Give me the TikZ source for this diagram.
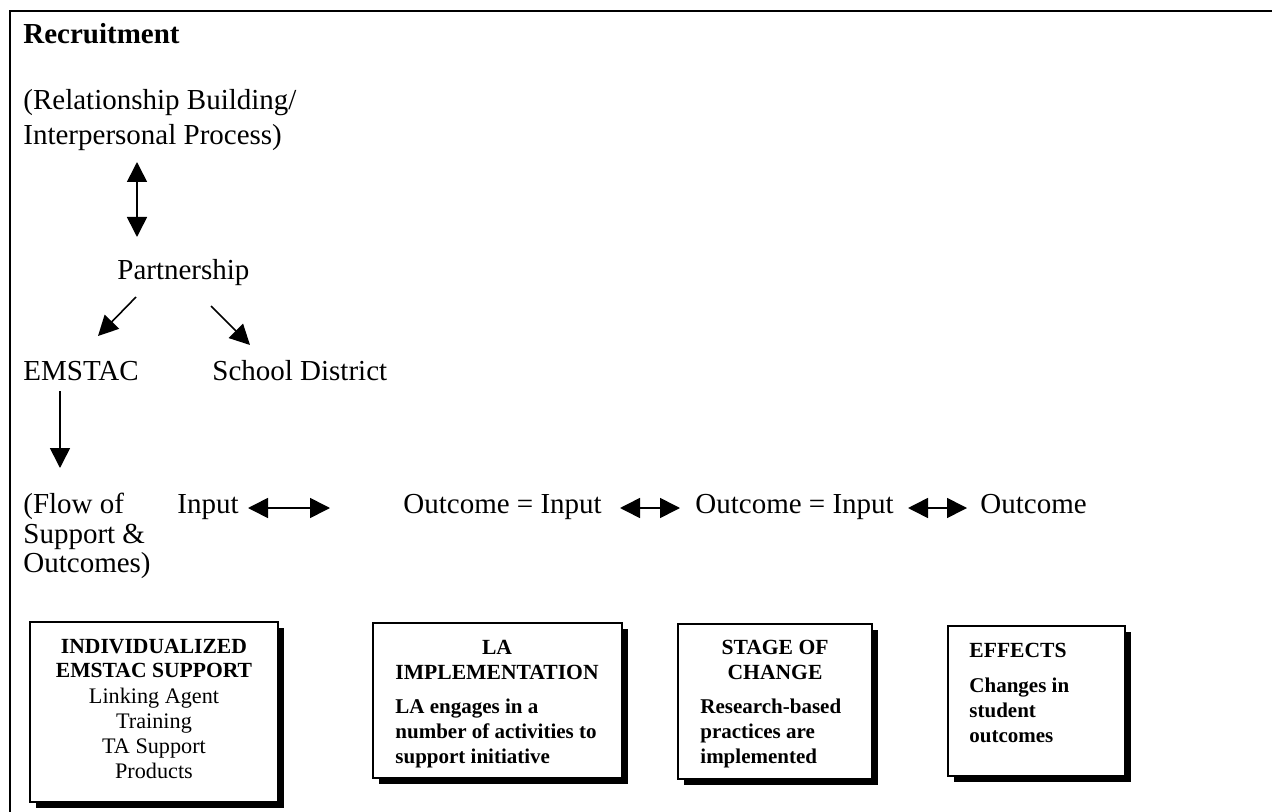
\documentclass[tikz,border=0pt]{standalone}
\usepackage{fontspec}
\setmainfont{Liberation Serif}
\usetikzlibrary{arrows.meta}
\begin{document}
\begin{tikzpicture}[x=0.5pt,y=-0.5pt,
  txt/.style={anchor=base west, inner sep=0pt, font=\fontsize{14.5}{17.5}\selectfont},
  hd/.style={anchor=base, inner sep=0pt, font=\bfseries\fontsize{10.8}{13}\selectfont},
  hdl/.style={anchor=base west, inner sep=0pt, font=\bfseries\fontsize{10.8}{13}\selectfont},
  bd/.style={anchor=base west, inner sep=0pt, font=\bfseries\fontsize{10.5}{12.5}\selectfont},
  rg/.style={anchor=base, inner sep=0pt, font=\fontsize{11.1}{13}\selectfont},
  panel/.style={draw, line width=1pt, fill=white, inner sep=0pt, outer sep=0pt, anchor=north west},
  tip/.tip={Triangle[length=10pt,width=10pt]},
  arr/.style={line width=0.8pt, -tip},
  darr/.style={line width=0.8pt, tip-tip}]
\useasboundingbox (0,0) rectangle (1272,812);

% outer frame (top and left edges)
\draw[line width=1.2pt] (10,812) -- (10,11) -- (1272,11);

% upper part: recruitment and partnership
\node[txt, font=\bfseries\fontsize{14.5}{17.5}\selectfont] (rec) at (23,44) {Recruitment};
\node[txt] (rel1) at (23,110) {(Relationship Building/};
\node[txt] (rel2) at (23,145) {Interpersonal Process)};
\node[txt] (part) at (117,280) {Partnership};
\node[txt] (emstac) at (23,380) {EMSTAC};
\node[txt] (school) at (212,380) {School District};

\coordinate (relB) at (137,162);
\coordinate (partT) at (137,237);
\draw[darr] (relB) -- (partT);

\coordinate (partL) at (136,297);
\coordinate (emT) at (98,336);
\draw[arr] (partL) -- (emT);
\coordinate (partR) at (211,306);
\coordinate (schT) at (250,345);
\draw[arr] (partR) -- (schT);

\coordinate (emB) at (60,391);
\coordinate (flowT) at (60,468);
\draw[arr] (emB) -- (flowT);

% flow of support and outcomes
\node[txt] (flow1) at (23,513) {(Flow of};
\node[txt] (flow2) at (23,543) {Support \&};
\node[txt] (flow3) at (23,572) {Outcomes)};
\node[txt] (in0) at (177,513) {Input};
\node[txt] (oi1) at (403,513) {Outcome = Input};
\node[txt] (oi2) at (695,513) {Outcome = Input};
\node[txt] (out) at (980,513) {Outcome};

\coordinate (a1s) at (248,508); \coordinate (a1e) at (330,508);
\coordinate (a2s) at (620,508); \coordinate (a2e) at (680,508);
\coordinate (a3s) at (908,508); \coordinate (a3e) at (967,508);
\draw[darr] (a1s) -- (a1e);
\draw[darr] (a2s) -- (a2e);
\draw[darr] (a3s) -- (a3e);

% shadowed panels
\fill (36,628) rectangle (284,808);
\node[panel, minimum width=124pt, minimum height=90pt] (b1) at (30,622) {};
\fill (379,629) rectangle (628,784);
\node[panel, minimum width=124.5pt, minimum height=77.5pt] (b2) at (373,623) {};
\fill (684,630) rectangle (878,785);
\node[panel, minimum width=97pt, minimum height=77.5pt] (b3) at (678,624) {};
\fill (954,632) rectangle (1131,782);
\node[panel, minimum width=88.5pt, minimum height=75pt] (b4) at (948,626) {};

% panel texts
\node[hd] (b1h1) at (154,653) {INDIVIDUALIZED};
\node[hd] (b1h2) at (154,677) {EMSTAC SUPPORT};
\node[rg] (b1t1) at (154,703) {Linking Agent};
\node[rg] (b1t2) at (154,728) {Training};
\node[rg] (b1t3) at (154,753) {TA Support};
\node[rg] (b1t4) at (154,778) {Products};

\node[hd] (b2h1) at (497,654) {LA};
\node[hd] (b2h2) at (497,679) {IMPLEMENTATION};
\node[bd] (b2t1) at (395,713) {LA engages in a};
\node[bd] (b2t2) at (395,738) {number of activities to};
\node[bd] (b2t3) at (395,763) {support initiative};

\node[hd] (b3h1) at (775,654) {STAGE OF};
\node[hd] (b3h2) at (775,679) {CHANGE};
\node[bd] (b3t1) at (700,713) {Research-based};
\node[bd] (b3t2) at (700,738) {practices are};
\node[bd] (b3t3) at (700,763) {implemented};

\node[hdl] (b4h1) at (969,657) {EFFECTS};
\node[bd] (b4t1) at (969,692) {Changes in};
\node[bd] (b4t2) at (969,717) {student};
\node[bd] (b4t3) at (969,742) {outcomes};
\end{tikzpicture}
\end{document}
